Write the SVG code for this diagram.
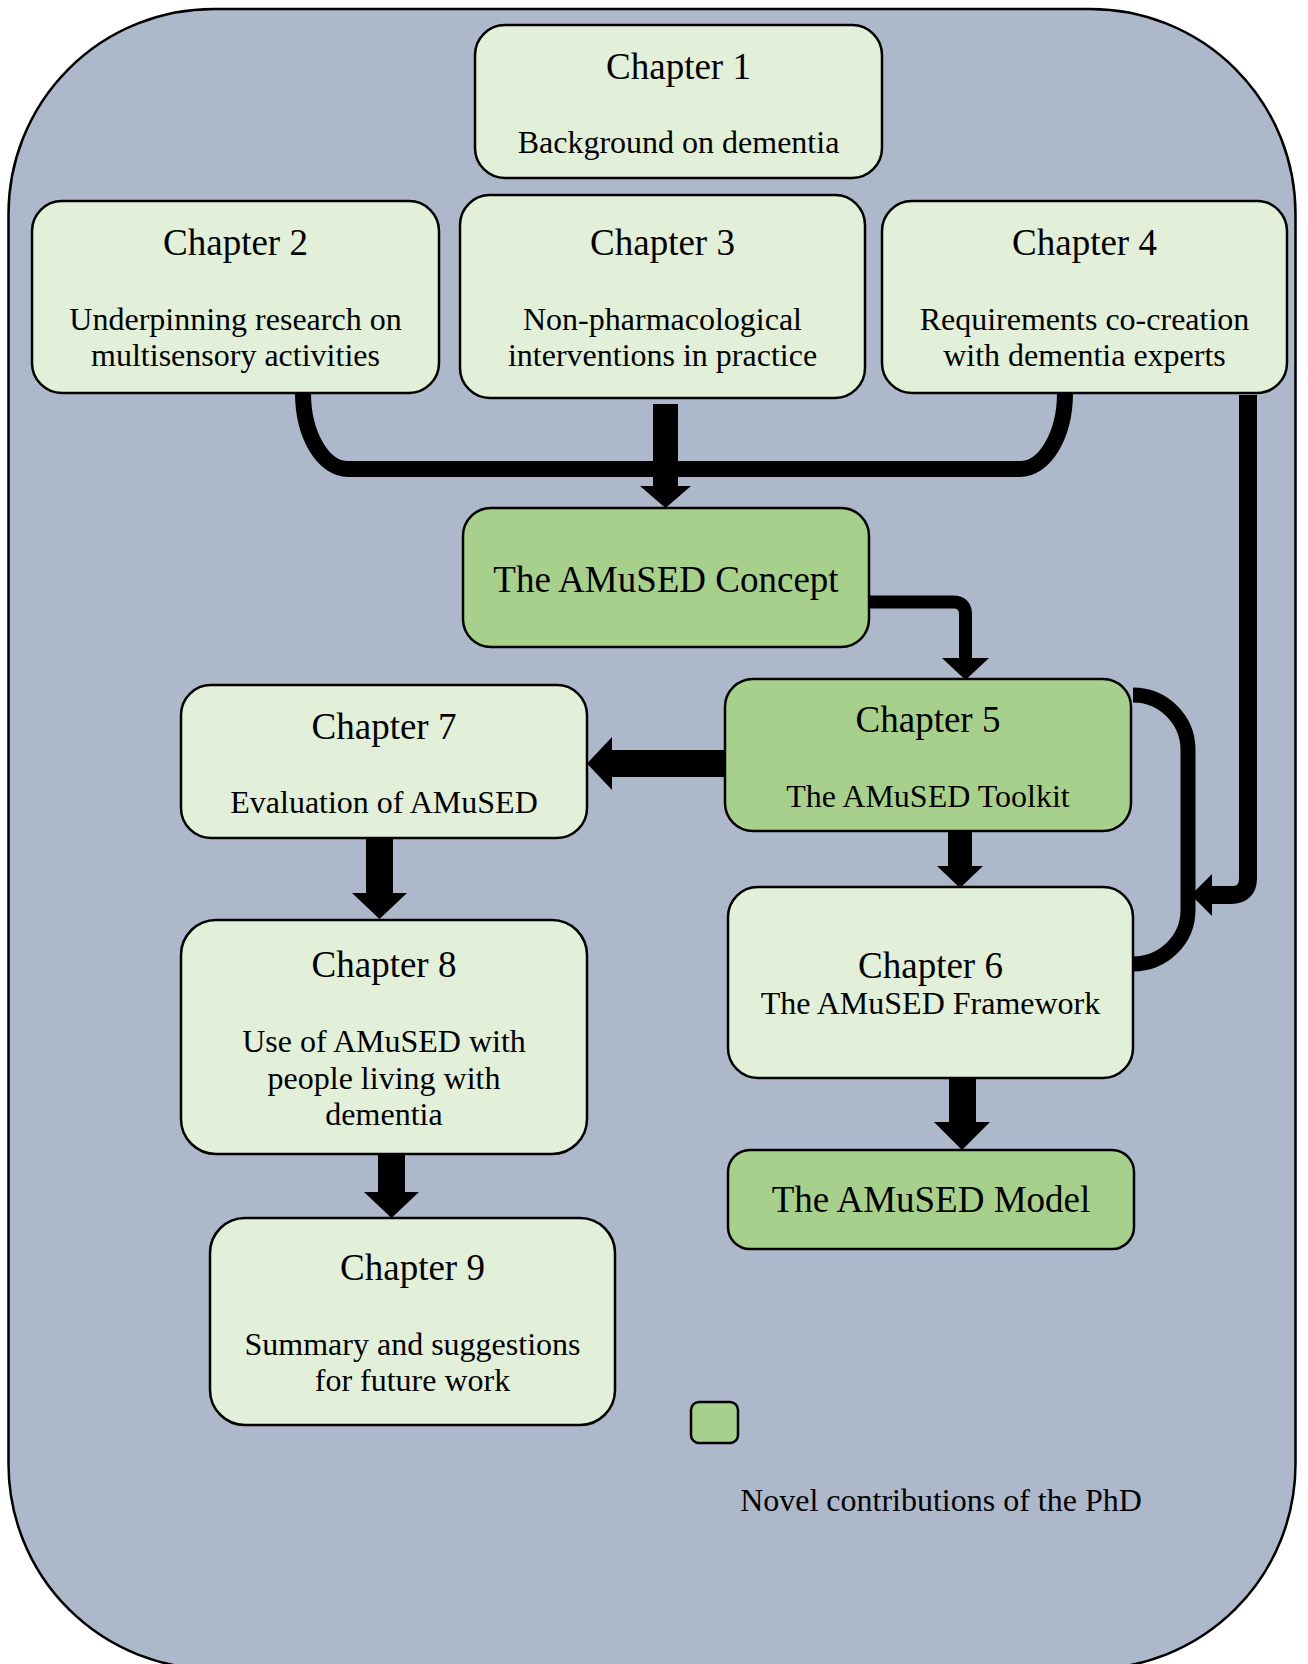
<svg xmlns="http://www.w3.org/2000/svg" width="1308" height="1664" viewBox="0 0 1308 1664">
<style>
.light{fill:#e2efd9;stroke:#000;stroke-width:2.5}
.dark{fill:#a8d08d;stroke:#000;stroke-width:2.5}
text{font-family:"Liberation Serif","Times New Roman",serif;fill:#000;text-anchor:middle}
.h{font-size:37px}
.b{font-size:32px}
.line{fill:none;stroke:#000}
.arrow{fill:#000}
</style>
<rect x="8.5" y="9" width="1287" height="1660" rx="205" ry="205" fill="#adb8cb" stroke="#000" stroke-width="2.5"/>
<g id="connectors">
  <path class="line" stroke-width="16" d="M303,393 A45,76 0 0 0 348,469 L1020,469 A45,76 0 0 0 1065,393"/>
  <rect class="arrow" x="653" y="404" width="25" height="83"/>
  <polygon class="arrow" points="640,486 691,486 665.5,508"/>
  <path class="line" stroke-width="13" d="M865,602 L953,602 Q965.5,602 965.5,614.5 L965.5,660"/>
  <polygon class="arrow" points="942,658 989,658 965.5,680"/>
  <path class="line" stroke-width="18" d="M1248,395 L1248,878 Q1248,895 1231,895 L1206,895"/>
  <polygon class="arrow" points="1212,874 1212,916 1191,895"/>
  <path class="line" stroke-width="15" d="M1133,695 A55,55 0 0 1 1188,750 L1188,910 A55,54 0 0 1 1133,964"/>
  <rect class="arrow" x="611" y="750" width="115" height="27"/>
  <polygon class="arrow" points="612,737 612,790 587,763.5"/>
  <rect class="arrow" x="948" y="830" width="24" height="37"/>
  <polygon class="arrow" points="937,866 983,866 960,888"/>
  <rect class="arrow" x="366" y="837" width="27" height="57"/>
  <polygon class="arrow" points="352,893 407,893 379.5,919"/>
  <rect class="arrow" x="378" y="1153" width="27" height="40"/>
  <polygon class="arrow" points="364,1192 419,1192 391.5,1218"/>
  <rect class="arrow" x="949" y="1077" width="27" height="46"/>
  <polygon class="arrow" points="934,1122 990,1122 962,1150"/>
</g>
<g id="ch1">
  <rect class="light" x="475" y="25" width="407" height="153" rx="30"/>
  <text class="h" x="678.5" y="79">Chapter 1</text>
  <text class="b" x="678.5" y="153">Background on dementia</text>
</g>
<g id="ch2">
  <rect class="light" x="32" y="201" width="407" height="192" rx="30"/>
  <text class="h" x="235.5" y="255">Chapter 2</text>
  <text class="b" x="235.5" y="330">Underpinning research on</text>
  <text class="b" x="235.5" y="366">multisensory activities</text>
</g>
<g id="ch3">
  <rect class="light" x="460" y="195" width="405" height="203" rx="30"/>
  <text class="h" x="662.5" y="255">Chapter 3</text>
  <text class="b" x="662.5" y="330">Non-pharmacological</text>
  <text class="b" x="662.5" y="366">interventions in practice</text>
</g>
<g id="ch4">
  <rect class="light" x="882" y="201" width="405" height="192" rx="30"/>
  <text class="h" x="1084.5" y="255">Chapter 4</text>
  <text class="b" x="1084.5" y="330">Requirements co-creation</text>
  <text class="b" x="1084.5" y="366">with dementia experts</text>
</g>
<g id="concept">
  <rect class="dark" x="463" y="508" width="406" height="139" rx="28"/>
  <text class="h" x="666" y="592">The AMuSED Concept</text>
</g>
<g id="ch5">
  <rect class="dark" x="725" y="679" width="406" height="152" rx="28"/>
  <text class="h" x="928" y="732">Chapter 5</text>
  <text class="b" x="928" y="807">The AMuSED Toolkit</text>
</g>
<g id="ch7">
  <rect class="light" x="181" y="685" width="406" height="153" rx="30"/>
  <text class="h" x="384" y="739">Chapter 7</text>
  <text class="b" x="384" y="813">Evaluation of AMuSED</text>
</g>
<g id="ch6">
  <rect class="light" x="728" y="887" width="405" height="191" rx="30"/>
  <text class="h" x="930.5" y="978">Chapter 6</text>
  <text class="b" x="930.5" y="1014">The AMuSED Framework</text>
</g>
<g id="ch8">
  <rect class="light" x="181" y="920" width="406" height="234" rx="35"/>
  <text class="h" x="384" y="977">Chapter 8</text>
  <text class="b" x="384" y="1052">Use of AMuSED with</text>
  <text class="b" x="384" y="1089">people living with</text>
  <text class="b" x="384" y="1125">dementia</text>
</g>
<g id="model">
  <rect class="dark" x="728" y="1150" width="406" height="99" rx="22"/>
  <text class="h" x="931" y="1212">The AMuSED Model</text>
</g>
<g id="ch9">
  <rect class="light" x="210" y="1218" width="405" height="207" rx="35"/>
  <text class="h" x="412.5" y="1280">Chapter 9</text>
  <text class="b" x="412.5" y="1355">Summary and suggestions</text>
  <text class="b" x="412.5" y="1391">for future work</text>
</g>
<g id="legend">
  <rect class="dark" x="691" y="1402" width="47" height="41" rx="8"/>
  <text class="b" x="941" y="1511">Novel contributions of the PhD</text>
</g>
</svg>
